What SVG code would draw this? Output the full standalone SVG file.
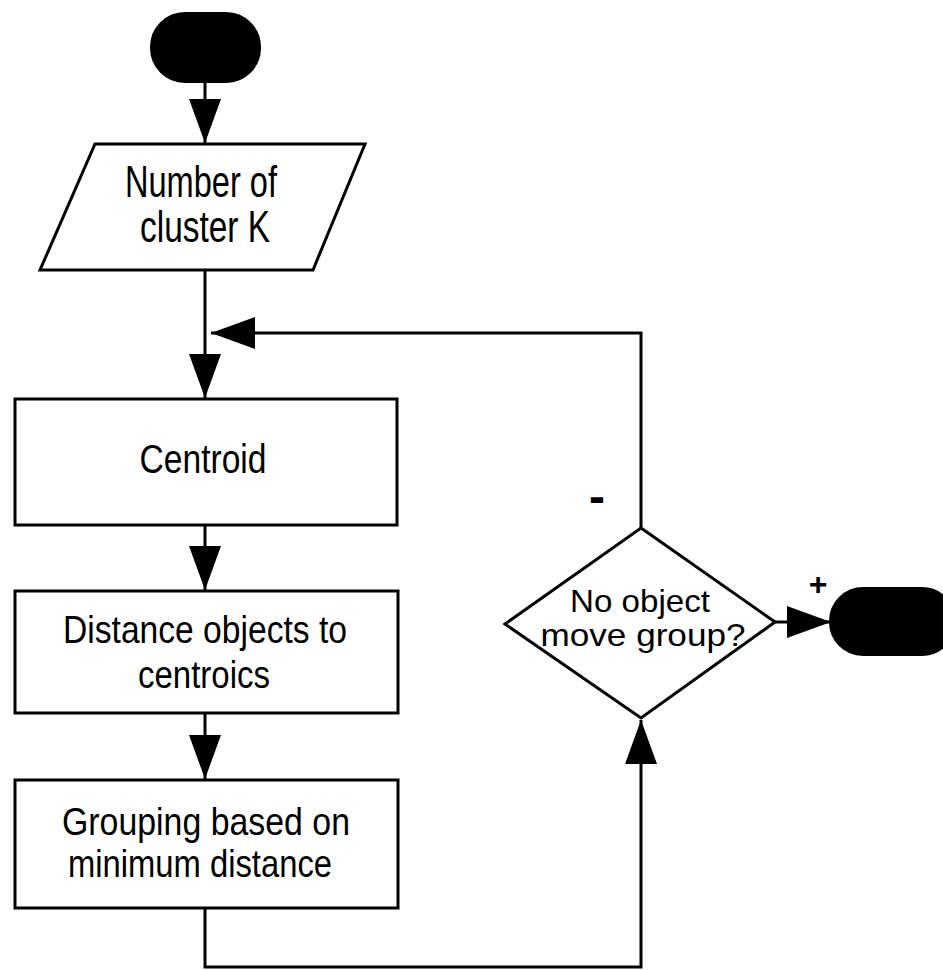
<svg xmlns="http://www.w3.org/2000/svg" width="943" height="970" viewBox="0 0 943 970">
<style>
.shape{fill:#fff;stroke:#000;stroke-width:3}
.term{fill:#000;stroke:#000;stroke-width:2}
.lbl{font-family:"Liberation Sans",Arial,sans-serif;fill:#000;text-anchor:middle}
.conn{fill:none;stroke:#000;stroke-width:3}
</style>
<defs>
<marker id="arr" viewBox="0 0 44 32" refX="44" refY="16" markerWidth="44" markerHeight="32" markerUnits="userSpaceOnUse" orient="auto">
<path d="M0,0 L44,16 L0,32 Z" fill="#000"/>
</marker>
</defs>
<rect width="943" height="970" fill="#fff"/>
<g id="connectors">
<path class="conn" d="M205,82 L205,143" marker-end="url(#arr)"/>
<path class="conn" d="M205,270 L205,398" marker-end="url(#arr)"/>
<path class="conn" d="M641,528 L641,333 L211,333" marker-end="url(#arr)"/>
<path class="conn" d="M205,525 L205,590" marker-end="url(#arr)"/>
<path class="conn" d="M205,713 L205,779" marker-end="url(#arr)"/>
<path class="conn" d="M205,908 L205,967 L641,967 L641,720" marker-end="url(#arr)"/>
<path class="conn" d="M775,622 L831,622" marker-end="url(#arr)"/>
<text class="lbl" x="597" y="513" font-size="48" font-weight="bold">-</text>
<text class="lbl" x="818" y="595" font-size="32" font-weight="bold">+</text>
</g>
<g id="start">
<rect class="term" x="151" y="13" width="109" height="69" rx="34"/>
</g>
<g id="input">
<polygon class="shape" points="95,144 365,144 313,270 40,270"/>
<text class="lbl" x="201" y="197" font-size="44" textLength="152" lengthAdjust="spacingAndGlyphs">Number of</text>
<text class="lbl" x="205" y="242" font-size="44" textLength="130" lengthAdjust="spacingAndGlyphs">cluster K</text>
</g>
<g id="centroid">
<rect class="shape" x="15" y="399" width="382" height="126"/>
<text class="lbl" x="203" y="473" font-size="41" textLength="127" lengthAdjust="spacingAndGlyphs">Centroid</text>
</g>
<g id="distance">
<rect class="shape" x="15" y="591" width="383" height="122"/>
<text class="lbl" x="205" y="643" font-size="39" textLength="284" lengthAdjust="spacingAndGlyphs">Distance objects to</text>
<text class="lbl" x="204" y="688" font-size="39" textLength="132" lengthAdjust="spacingAndGlyphs">centroics</text>
</g>
<g id="grouping">
<rect class="shape" x="15" y="780" width="383" height="128"/>
<text class="lbl" x="206" y="835" font-size="39" textLength="288" lengthAdjust="spacingAndGlyphs">Grouping based on</text>
<text class="lbl" x="200" y="877" font-size="39" textLength="264" lengthAdjust="spacingAndGlyphs">minimum distance</text>
</g>
<g id="decision">
<polygon class="shape" points="641,528 775,622 641,718 505,624"/>
<text class="lbl" x="640" y="612" font-size="32" textLength="140" lengthAdjust="spacingAndGlyphs">No object</text>
<text class="lbl" x="643" y="646" font-size="32" textLength="205" lengthAdjust="spacingAndGlyphs">move group?</text>
</g>
<g id="end">
<rect class="term" x="830" y="588" width="125" height="67" rx="33"/>
</g>
</svg>
